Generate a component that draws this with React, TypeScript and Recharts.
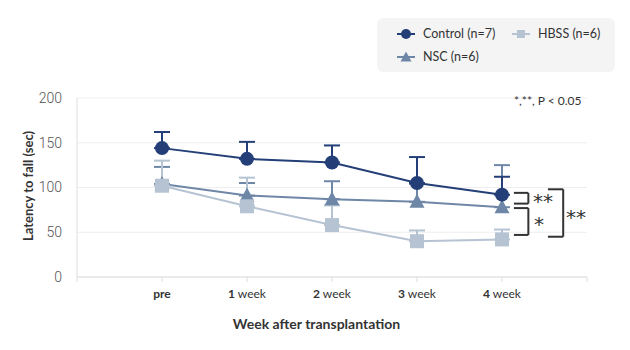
import React from "react";
import {
  CartesianGrid,
  ErrorBar,
  Line,
  LineChart,
  ReferenceLine,
  XAxis,
  YAxis,
} from "recharts";

const WEEKS = [0, 1, 2, 3, 4];
const WEEK_LABELS = ["pre", "1", "2", "3", "4"];
const CONTROL_MEAN = [144, 132, 128, 105, 92];
const CONTROL_ERR = [18, 19, 19, 29, 20];
const NSC_MEAN = [104, 91, 87, 84, 78];
const NSC_ERR = [19, 14, 20, 20, 47];
const HBSS_MEAN = [102, 79, 58, 40, 42];
const HBSS_ERR = [28, 32, 22, 12, 11];
const Y_TICKS = [0, 50, 100, 150, 200];
const X_TICKS = [-1, 0, 1, 2, 3, 4, 5];

const NAVY = "#243f78";
const STEEL = "#6f87a7";
const PALE = "#b5c3d3";
const FONT = "Lato, 'Noto Sans', sans-serif";
const STAR_FONT = "'DejaVu Sans', sans-serif";

const rows = WEEKS.map((w, i) => ({
  week: w,
  control: CONTROL_MEAN[i],
  controlErr: [0, CONTROL_ERR[i]],
  nsc: NSC_MEAN[i],
  nscErr: [0, NSC_ERR[i]],
  hbss: HBSS_MEAN[i],
  hbssErr: [0, HBSS_ERR[i]],
}));

// significance brackets, in data units
const BRACKETS: { x1: number; x2: number; y1: number; y2: number }[] = [
  { x1: 4.14, x2: 4.31, y1: 94, y2: 82 },
  { x1: 4.14, x2: 4.31, y1: 77, y2: 47 },
  { x1: 4.54, x2: 4.72, y1: 98, y2: 45 },
];

function circleDot(color: string) {
  return (p: any) =>
    p.cx == null ? null : <circle key={p.index} cx={p.cx} cy={p.cy} r={7} fill={color} />;
}
function squareDot(color: string) {
  return (p: any) =>
    p.cx == null ? null : (
      <rect key={p.index} x={p.cx - 7} y={p.cy - 7} width={14} height={14} fill={color} />
    );
}
function triangleDot(color: string) {
  return (p: any) =>
    p.cx == null ? null : (
      <polygon
        key={p.index}
        points={`${p.cx},${p.cy - 8} ${p.cx + 7.5},${p.cy + 6} ${p.cx - 7.5},${p.cy + 6}`}
        fill={color}
      />
    );
}

function WeekTick({ x, y, payload }: any) {
  const i = WEEKS.indexOf(payload.value);
  if (i < 0) return null;
  return (
    <text x={x} y={y + 14} textAnchor="middle" fontSize={12} fill="#333" fontFamily={FONT}>
      {i === 0 ? (
        <tspan fontWeight={700}>{WEEK_LABELS[i]}</tspan>
      ) : (
        <>
          <tspan fontWeight={700}>{WEEK_LABELS[i]}</tspan>
          <tspan> week</tspan>
        </>
      )}
    </text>
  );
}

function LegendItem({ color, shape, label }: { color: string; shape: string; label: string }) {
  return (
    <div style={{ display: "flex", alignItems: "center", height: 23 }}>
      <svg width={18} height={12} style={{ marginRight: 8 }}>
        <line x1={0} y1={6} x2={18} y2={6} stroke={color} strokeWidth={2} />
        {shape === "circle" && <circle cx={9} cy={6} r={5} fill={color} />}
        {shape === "square" && <rect x={5} y={2} width={8} height={8} fill={color} />}
        {shape === "triangle" && <polygon points="9,0.5 14.5,10.5 3.5,10.5" fill={color} />}
      </svg>
      <span>{label}</span>
    </div>
  );
}

const starStyle: React.CSSProperties = {
  position: "absolute",
  fontFamily: STAR_FONT,
  fontSize: 20,
  lineHeight: "20px",
  color: "#333",
};

export default function App() {
  return (
    <div
      style={{
        position: "fixed",
        left: 0,
        top: 0,
        width: 630,
        height: 350,
        background: "#fff",
        fontFamily: FONT,
        color: "#333",
      }}
    >
      <LineChart
        width={630}
        height={350}
        data={rows}
        margin={{ top: 98, right: 43, bottom: 43, left: 0 }}
      >
        <CartesianGrid vertical={false} stroke="#eeeeee" />
        <XAxis
          dataKey="week"
          type="number"
          domain={[-1, 5]}
          ticks={X_TICKS}
          tick={<WeekTick />}
          stroke="#dddddd"
          tickSize={5}
          interval={0}
        />
        <YAxis
          domain={[0, 200]}
          ticks={Y_TICKS}
          width={77}
          stroke="#dddddd"
          tickLine={false}
          tickMargin={9}
          tick={{ fontSize: 14, fill: "#555", fontFamily: "Roboto", fontWeight: 300 }}
        />
        <Line
          dataKey="nsc"
          stroke={STEEL}
          strokeWidth={2}
          dot={triangleDot(STEEL)}
          activeDot={false}
          isAnimationActive={false}
        >
          <ErrorBar dataKey="nscErr" width={8} stroke={STEEL} strokeWidth={2} isAnimationActive={false} />
        </Line>
        <Line
          dataKey="hbss"
          stroke={PALE}
          strokeWidth={2}
          dot={squareDot(PALE)}
          activeDot={false}
          isAnimationActive={false}
        >
          <ErrorBar dataKey="hbssErr" width={8} stroke={PALE} strokeWidth={2} isAnimationActive={false} />
        </Line>
        <Line
          dataKey="control"
          stroke={NAVY}
          strokeWidth={2}
          dot={circleDot(NAVY)}
          activeDot={false}
          isAnimationActive={false}
        >
          <ErrorBar dataKey="controlErr" width={8} stroke={NAVY} strokeWidth={2} isAnimationActive={false} />
        </Line>
        {BRACKETS.map((b, i) => [
          <ReferenceLine
            key={`t${i}`}
            segment={[{ x: b.x1, y: b.y1 }, { x: b.x2, y: b.y1 }]}
            stroke="#333"
            strokeWidth={2}
          />,
          <ReferenceLine
            key={`v${i}`}
            segment={[{ x: b.x2, y: b.y1 }, { x: b.x2, y: b.y2 }]}
            stroke="#333"
            strokeWidth={2}
          />,
          <ReferenceLine
            key={`b${i}`}
            segment={[{ x: b.x1, y: b.y2 }, { x: b.x2, y: b.y2 }]}
            stroke="#333"
            strokeWidth={2}
          />,
        ])}
      </LineChart>

      {/* legend */}
      <div
        style={{
          position: "absolute",
          left: 377,
          top: 18,
          width: 238,
          height: 54,
          background: "#f4f4f4",
          borderRadius: 6,
          fontSize: 12.5,
        }}
      >
        <div style={{ position: "absolute", left: 20, top: 4 }}>
          <LegendItem color={NAVY} shape="circle" label="Control (n=7)" />
          <LegendItem color={STEEL} shape="triangle" label="NSC (n=6)" />
        </div>
        <div style={{ position: "absolute", left: 135, top: 4 }}>
          <LegendItem color={PALE} shape="square" label="HBSS (n=6)" />
        </div>
      </div>

      <div style={{ position: "absolute", left: 514, top: 93, fontSize: 12 }}>
        *,**, P &lt; 0.05
      </div>

      {/* significance marks */}
      <div style={{ ...starStyle, left: 533, top: 191 }}>**</div>
      <div style={{ ...starStyle, left: 534, top: 214 }}>*</div>
      <div style={{ ...starStyle, left: 566, top: 207 }}>**</div>

      <div
        style={{
          position: "absolute",
          left: 226,
          top: 315,
          width: 181,
          textAlign: "center",
          fontSize: 14,
          fontWeight: 700,
          whiteSpace: "nowrap",
        }}
      >
        Week after transplantation
      </div>
      <div
        style={{
          position: "absolute",
          left: 28 - 80,
          top: 187 - 9,
          width: 160,
          textAlign: "center",
          fontSize: 13,
          fontWeight: 700,
          transform: "rotate(-90deg)",
          whiteSpace: "nowrap",
        }}
      >
        Latency to fall (sec)
      </div>
    </div>
  );
}
